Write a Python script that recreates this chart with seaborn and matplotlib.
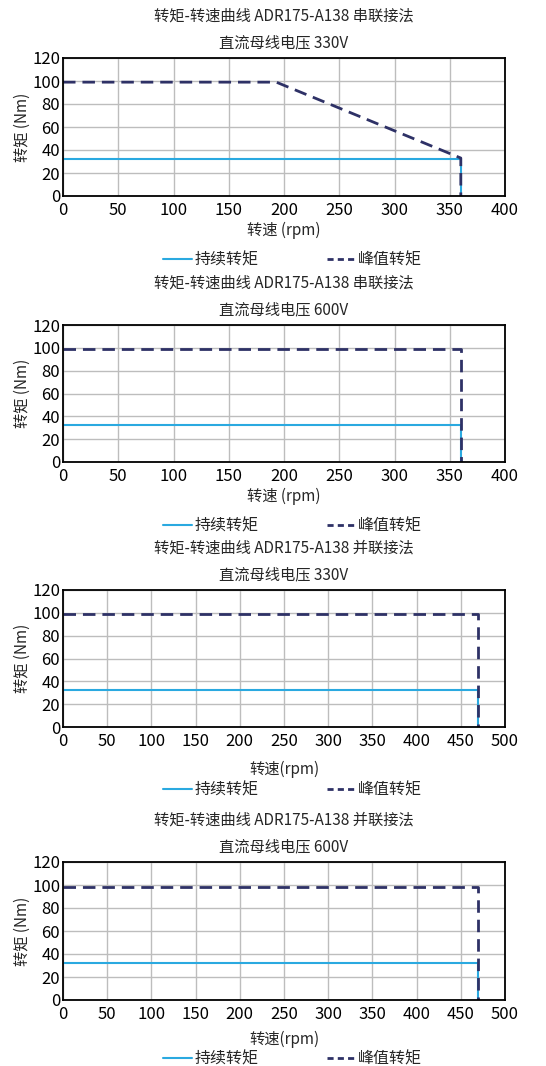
import pandas as pd
import matplotlib
matplotlib.use("Agg")
import matplotlib.pyplot as plt
import seaborn as sns

# data (rpm / Nm)
titles = ["转矩-转速曲线 ADR175-A138 串联接法", "转矩-转速曲线 ADR175-A138 串联接法",
          "转矩-转速曲线 ADR175-A138 并联接法", "转矩-转速曲线 ADR175-A138 并联接法"]
voltages = ["直流母线电压 330V", "直流母线电压 600V", "直流母线电压 330V", "直流母线电压 600V"]
x_max = [400, 400, 500, 500]
xlabels = ["转速 (rpm)", "转速 (rpm)", "转速(rpm)", "转速(rpm)"]

cont_speed = [[0, 360, 360], [0, 360, 360], [0, 469, 469], [0, 469, 469]]
cont_torque = [[32.5, 32.5, 0], [32.5, 32.5, 0], [32.5, 32.5, 0], [32.5, 32.5, 0]]
peak_speed = [[0, 193, 360, 360], [0, 360, 360], [0, 469, 469], [0, 469, 469]]
peak_torque = [[99, 99, 33, 0], [99, 99, 0], [99, 99, 0], [98.5, 98.5, 0]]

series_names = ["持续转矩", "峰值转矩"]
colors = {"持续转矩": "#2aa9e0", "峰值转矩": "#2e3166"}

sns.set_theme(style="whitegrid")
plt.rcParams["font.family"] = ["Noto Sans CJK SC", "DejaVu Sans"]

fig = plt.figure(figsize=(5.46, 10.66), dpi=100)

# axes boxes in pixels: top, bottom
boxes = [(58, 196), (325, 462), (590, 727), (862, 1000)]
xlabel_pads = [2, 2, 8, 6]
legend_y = [-0.355, -0.36, -0.35, -0.32]
W, H = 546, 1066
left, right = 63, 505

for i in range(4):
    top, bot = boxes[i]
    ax = fig.add_axes([left / W, 1 - bot / H, (right - left) / W, (bot - top) / H])

    df = pd.concat([
        pd.DataFrame({"rpm": cont_speed[i], "torque": cont_torque[i], "series": series_names[0]}),
        pd.DataFrame({"rpm": peak_speed[i], "torque": peak_torque[i], "series": series_names[1]}),
    ])
    sns.lineplot(data=df, x="rpm", y="torque", hue="series", style="series",
                 palette=colors, dashes={"持续转矩": "", "峰值转矩": (4.5, 2.5)},
                 size="series", sizes={"持续转矩": 1.5, "峰值转矩": 2.0},
                 sort=False, estimator=None, ax=ax)

    ax.set_xlim(0, x_max[i])
    ax.set_ylim(0, 120)
    ax.set_xticks(range(0, x_max[i] + 1, 50))
    ax.set_yticks(range(0, 121, 20))
    ax.grid(True, color="#bdbdbd", linewidth=1)
    for s in ax.spines.values():
        s.set_color("black")
        s.set_linewidth(1.3)
    ax.tick_params(axis="both", labelsize=12, length=0, colors="black")
    ax.tick_params(axis="x", pad=4)
    ax.tick_params(axis="y", pad=2)
    ax.set_xlabel(xlabels[i], fontsize=11, labelpad=xlabel_pads[i])
    ax.set_ylabel("转矩 (Nm)", fontsize=11, labelpad=1)
    ax.set_title(titles[i] + "\n" + voltages[i], fontsize=11, linespacing=1.75, pad=8)

    leg = ax.legend(loc="upper center", bbox_to_anchor=(0.52, legend_y[i]), ncol=2, frameon=False,
                    fontsize=11.5, handlelength=1.8, handletextpad=0.15, columnspacing=4.3,
                    borderaxespad=0)
    for h in leg.get_lines():
        if h.get_linestyle() == "--":
            h.set_dashes((2.2, 1.5))

fig.savefig("out.png", dpi=100)
